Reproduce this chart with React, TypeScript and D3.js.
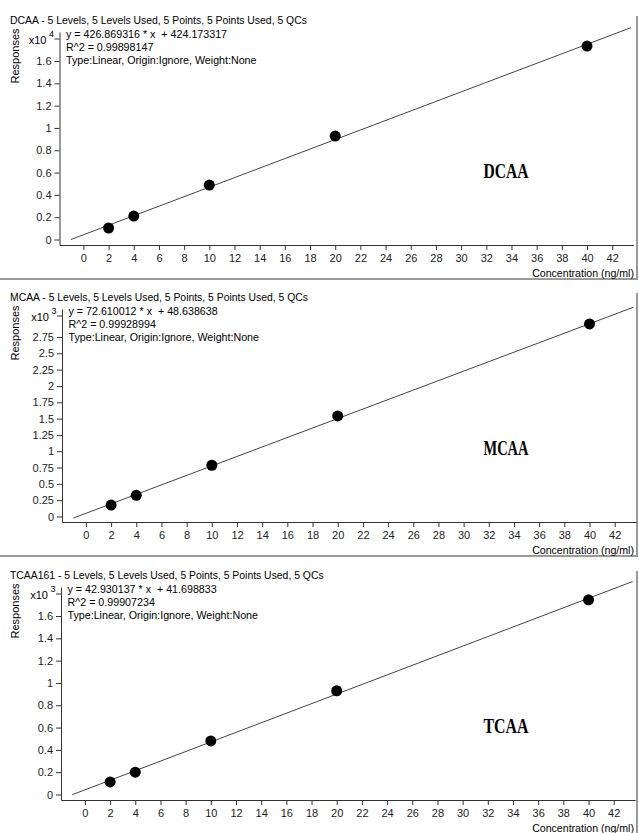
import React, { useEffect, useRef } from 'react';
import { select, scaleLinear, axisBottom, axisLeft, line } from 'd3';

// calibration levels (ng/ml)
const concentrations = [2, 4, 10, 20, 40];

// responses, in units of the axis multiplier
const dcaaResponses = [0.103, 0.21, 0.488, 0.927, 1.734];
const mcaaResponses = [0.175, 0.325, 0.785, 1.54, 2.95];
const tcaaResponses = [0.113, 0.2, 0.48, 0.93, 1.745];

const xTicks = [0, 2, 4, 6, 8, 10, 12, 14, 16, 18, 20, 22, 24, 26, 28, 30, 32, 34, 36, 38, 40, 42];
const yTicksSmall = [0, 0.2, 0.4, 0.6, 0.8, 1, 1.2, 1.4, 1.6];
const yTicksMcaa = [0, 0.25, 0.5, 0.75, 1, 1.25, 1.5, 1.75, 2, 2.25, 2.5, 2.75];

const panels = [
    {
        name: 'DCAA',
        title: 'DCAA - 5 Levels, 5 Levels Used, 5 Points, 5 Points Used, 5 QCs',
        equation: 'y = 426.869316 * x  + 424.173317',
        r2: 'R^2 = 0.99898147',
        slope: 426.869316,
        intercept: 424.173317,
        exponent: 4,
        yTicks: yTicksSmall,
        yDomain: [-0.0493, 1.86],
        responses: dcaaResponses,
        top: 0,
        axisX: 59.5,
    },
    {
        name: 'MCAA',
        title: 'MCAA - 5 Levels, 5 Levels Used, 5 Points, 5 Points Used, 5 QCs',
        equation: 'y = 72.610012 * x  + 48.638638',
        r2: 'R^2 = 0.99928994',
        slope: 72.610012,
        intercept: 48.638638,
        exponent: 3,
        yTicks: yTicksMcaa,
        yDomain: [-0.0843, 3.179],
        responses: mcaaResponses,
        top: 277,
        axisX: 62,
    },
    {
        name: 'TCAA',
        title: 'TCAA161 - 5 Levels, 5 Levels Used, 5 Points, 5 Points Used, 5 QCs',
        equation: 'y = 42.930137 * x  + 41.698833',
        r2: 'R^2 = 0.99907234',
        slope: 42.930137,
        intercept: 41.698833,
        exponent: 3,
        yTicks: yTicksSmall,
        yDomain: [-0.0493, 1.86],
        responses: tcaaResponses,
        top: 555,
        axisX: 61,
    },
];

const FONT = '"Liberation Sans", Arial, sans-serif';
const AXIS_COLOR = '#333';

const App = () => {
    const svgRef = useRef<SVGSVGElement>(null);

    useEffect(() => {
        const svg = select(svgRef.current);
        svg.selectAll('*').remove();

        panels.forEach((p) => {
            const g = svg.append('g').attr('transform', `translate(0,${p.top})`);

            const xScale = scaleLinear()
                .domain([-1.9, 43.7])
                .range([p.axisX, p.axisX + 45.6 * 12.59]);
            const yScale = scaleLinear().domain(p.yDomain).range([245, 32]);

            // frame (right and bottom edges)
            g.append('line')
                .attr('x1', 637).attr('x2', 637).attr('y1', 16).attr('y2', 280)
                .attr('stroke', '#9a9a9a').attr('stroke-width', 2);
            g.append('line')
                .attr('x1', 0).attr('x2', 638).attr('y1', 279).attr('y2', 279)
                .attr('stroke', '#9a9a9a').attr('stroke-width', 2);

            g.append('text')
                .attr('x', 10).attr('y', 24)
                .style('font-family', FONT).style('font-size', '10.4px')
                .text(p.title);

            const info = [p.equation, p.r2, 'Type:Linear, Origin:Ignore, Weight:None'];
            info.forEach((t, i) => {
                g.append('text')
                    .attr('x', p.axisX + 6.5).attr('y', 38 + i * 13)
                    .style('font-family', FONT).style('font-size', '10.7px')
                    .style('white-space', 'pre')
                    .text(t);
            });

            g.append('text')
                .attr('transform', 'translate(19,56) rotate(-90)')
                .style('text-anchor', 'middle')
                .style('font-family', FONT).style('font-size', '11px')
                .text('Responses');

            // axes
            const xAxis = axisBottom(xScale).tickValues(xTicks).tickSize(5).tickSizeOuter(0).tickPadding(4);
            const xg = g.append('g').attr('transform', 'translate(0,245)').call(xAxis);
            const yAxis = axisLeft(yScale)
                .tickValues(p.yTicks)
                .tickSize(5)
                .tickSizeOuter(0)
                .tickPadding(3)
                .tickFormat((v) => String(+(+v).toFixed(2)));
            const yg = g.append('g').attr('transform', `translate(${p.axisX},0)`).call(yAxis);

            [xg, yg].forEach((ag) => {
                ag.attr('font-family', FONT).attr('font-size', 11);
                ag.selectAll('path,line').attr('stroke', AXIS_COLOR);
                ag.selectAll('text').attr('fill', '#222');
            });

            // multiplier tick
            g.append('line')
                .attr('x1', p.axisX - 5).attr('x2', p.axisX)
                .attr('y1', 39).attr('y2', 39)
                .attr('stroke', AXIS_COLOR);
            g.append('text')
                .attr('x', p.axisX - 13).attr('y', 44)
                .style('text-anchor', 'end')
                .style('font-family', FONT).style('font-size', '11px')
                .text('x10');
            g.append('text')
                .attr('x', p.axisX - 10.5).attr('y', 37)
                .style('font-family', FONT).style('font-size', '9px')
                .text(String(p.exponent));

            g.append('text')
                .attr('x', 634).attr('y', 277)
                .style('text-anchor', 'end')
                .style('font-family', FONT).style('font-size', '10.6px')
                .text('Concentration (ng/ml)');

            // calibration curve
            const scale = Math.pow(10, p.exponent);
            const fit = [-1, 43.5].map((x) => [x, (p.slope * x + p.intercept) / scale]);
            g.append('path')
                .attr('d', line()
                    .x((d) => xScale(d[0]))
                    .y((d) => yScale(d[1]))(fit as [number, number][]))
                .attr('fill', 'none')
                .attr('stroke', '#444')
                .attr('stroke-width', 1);

            g.selectAll('.pt')
                .data(concentrations)
                .join('circle')
                .attr('class', 'pt')
                .attr('cx', (d) => xScale(d))
                .attr('cy', (d, i) => yScale(p.responses[i]))
                .attr('r', 5.5)
                .attr('fill', '#000');

            g.append('text')
                .attr('x', 506).attr('y', 178)
                .attr('textLength', 45)
                .attr('lengthAdjust', 'spacingAndGlyphs')
                .style('text-anchor', 'middle')
                .style('font-family', '"Liberation Serif", "Times New Roman", serif')
                .style('font-weight', 'bold')
                .style('font-size', '21px')
                .text(p.name);
        });
    }, []);

    return (
        <div style={{ position: 'absolute', left: 0, top: 0 }}>
            <svg ref={svgRef} width={639} height={833} style={{ display: 'block', background: '#fff' }} />
        </div>
    );
};

export default App;
